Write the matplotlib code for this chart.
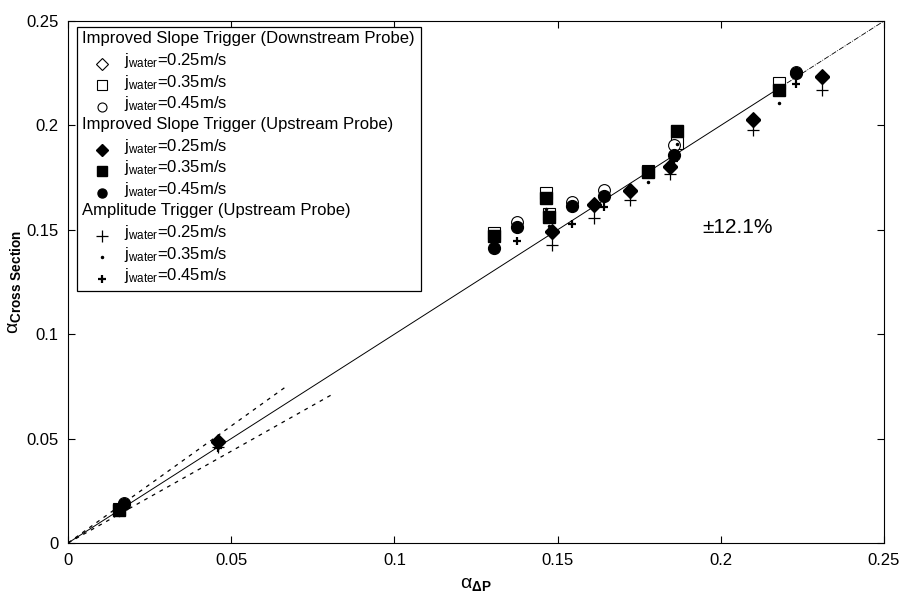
import matplotlib
matplotlib.use("Agg")
import matplotlib.pyplot as plt
from matplotlib.patches import Rectangle
from matplotlib.lines import Line2D

plt.rcParams['font.family'] = ['Liberation Sans', 'DejaVu Sans']
plt.rcParams['mathtext.fontset'] = 'custom'
plt.rcParams['mathtext.rm'] = 'Liberation Sans'
plt.rcParams['mathtext.it'] = 'Liberation Sans'
plt.rcParams['mathtext.bf'] = 'Liberation Sans:bold'

# improved slope trigger, downstream probe (open markers)
ds_025_x = [0.046, 0.1483, 0.1611, 0.1722, 0.1844, 0.2099, 0.231]
ds_025_y = [0.049, 0.1495, 0.1625, 0.169, 0.1805, 0.203, 0.2235]
ds_035_x = [0.0156, 0.1305, 0.1464, 0.1474, 0.1777, 0.1866, 0.2178]
ds_035_y = [0.0162, 0.1485, 0.1675, 0.1575, 0.178, 0.1915, 0.2205]
ds_045_x = [0.0172, 0.1376, 0.1544, 0.1642, 0.1857, 0.223]
ds_045_y = [0.019, 0.1535, 0.1635, 0.169, 0.1905, 0.2255]

# improved slope trigger, upstream probe (filled markers)
us_025_x = [0.046, 0.1483, 0.1611, 0.1722, 0.1844, 0.2099, 0.231]
us_025_y = [0.0484, 0.149, 0.1619, 0.1686, 0.180, 0.2026, 0.2232]
us_035_x = [0.0156, 0.1305, 0.1464, 0.1474, 0.1777, 0.1866, 0.2178]
us_035_y = [0.0158, 0.147, 0.1652, 0.156, 0.1777, 0.1973, 0.217]
us_045_x = [0.0172, 0.1305, 0.1376, 0.1544, 0.1642, 0.1857, 0.223]
us_045_y = [0.0187, 0.1413, 0.1513, 0.1614, 0.1662, 0.1858, 0.225]

# amplitude trigger, upstream probe
am_025_x = [0.046, 0.1483, 0.1611, 0.1722, 0.1844, 0.2099, 0.231]
am_025_y = [0.046, 0.1427, 0.1556, 0.1643, 0.1767, 0.198, 0.217]
am_035_x = [0.0156, 0.1464, 0.1474, 0.1777, 0.1866, 0.2178]
am_035_y = [0.0135, 0.160, 0.152, 0.173, 0.191, 0.2107]
am_045_x = [0.0172, 0.046, 0.1376, 0.1544, 0.1642, 0.1857, 0.223]
am_045_y = [0.0165, 0.0455, 0.1446, 0.153, 0.161, 0.183, 0.2198]

band = 0.121
ticks = [0, 0.05, 0.1, 0.15, 0.2, 0.25]
tick_labels = ['0', '0.05', '0.1', '0.15', '0.2', '0.25']

fig = plt.figure(figsize=(9.04, 6.02), dpi=100)
ax = fig.add_axes([68/904, 1-543/602, 816/904, 522/602])

# y = x reference and +/- band
ax.plot([0, 0.218], [0, 0.218], color='black', lw=0.7)
ax.plot([0.218, 0.25], [0.218, 0.25], color='black', lw=0.6, ls='-.')
ax.plot([0, 0.0665], [0, 0.0665*(1+band)], color='black', lw=0.9, ls=(0, (3, 4)))
ax.plot([0, 0.0815], [0, 0.0815*(1-band)], color='black', lw=0.9, ls=(0, (3, 4)))

ms = 8.5
ax.plot(ds_025_x, ds_025_y, 'D', ms=ms-1.5, mfc='white', mec='black', mew=0.8)
ax.plot(ds_035_x, ds_035_y, 's', ms=ms, mfc='white', mec='black', mew=0.8)
ax.plot(ds_045_x, ds_045_y, 'o', ms=ms, mfc='white', mec='black', mew=0.8)
ax.plot(us_025_x, us_025_y, 'D', ms=ms-1.5, color='black')
ax.plot(us_035_x, us_035_y, 's', ms=ms, color='black')
ax.plot(us_045_x, us_045_y, 'o', ms=ms, color='black')
ax.plot(am_025_x, am_025_y, '+', ms=9, color='black', mew=0.9)
ax.plot(am_035_x, am_035_y, '.', ms=3, color='black')
ax.plot(am_045_x, am_045_y, '+', ms=6, color='black', mew=1.6)

ax.text(0.1945, 0.151, '±12.1%', fontsize=15, va='center', ha='left')

ax.set_xlim(0, 0.25)
ax.set_ylim(0, 0.25)
ax.set_xticks(ticks)
ax.set_xticklabels(tick_labels)
ax.set_yticks(ticks)
ax.set_yticklabels(tick_labels)
ax.tick_params(direction='in', top=True, right=True, length=5, labelsize=12, pad=7)
ax.set_xlabel(r'$\alpha_{\mathbf{\Delta P}}$', fontsize=14, labelpad=6)
ax.set_ylabel(r'$\alpha_{\mathbf{Cross\ Section}}$', fontsize=14, labelpad=2)

# legend drawn by hand (header rows have no marker)
rows = [
    ('Improved Slope Trigger (Downstream Probe)', None),
    ('0.25', dict(marker='D', ms=ms-2.5, mfc='white', mec='black', mew=0.8)),
    ('0.35', dict(marker='s', ms=ms-2, mfc='white', mec='black', mew=0.8)),
    ('0.45', dict(marker='o', ms=ms-2, mfc='white', mec='black', mew=0.8)),
    ('Improved Slope Trigger (Upstream Probe)', None),
    ('0.25', dict(marker='D', ms=ms-2.5, color='black')),
    ('0.35', dict(marker='s', ms=ms-2, color='black')),
    ('0.45', dict(marker='o', ms=ms-2, color='black')),
    ('Amplitude Trigger (Upstream Probe)', None),
    ('0.25', dict(marker='+', ms=9, color='black', mew=0.9)),
    ('0.35', dict(marker='.', ms=3, color='black')),
    ('0.45', dict(marker='+', ms=6, color='black', mew=1.6)),
]
W, H = 816.0, 522.0
x0, top, row_h = 9/W, 1-6/H, 21.5/H
box_h = len(rows)*row_h + 6/H
ax.add_patch(Rectangle((x0, top-box_h), 344/W, box_h, transform=ax.transAxes,
                       facecolor='white', edgecolor='black', lw=0.9, zorder=5))
for i, (label, mk) in enumerate(rows):
    yc = top - 12/H - i*row_h
    if mk is None:
        ax.text(x0 + 5/W, yc, label, transform=ax.transAxes, fontsize=12,
                va='center', ha='left', zorder=6)
    else:
        ax.add_line(Line2D([x0 + 25/W], [yc - 3/H], transform=ax.transAxes,
                           ls='none', zorder=6, **mk))
        ax.text(x0 + 47/W, yc, r'$\mathregular{j_{water}}$=' + label + 'm/s',
                transform=ax.transAxes, fontsize=12, va='center', ha='left', zorder=6)

fig.savefig('out.png', dpi=100)
